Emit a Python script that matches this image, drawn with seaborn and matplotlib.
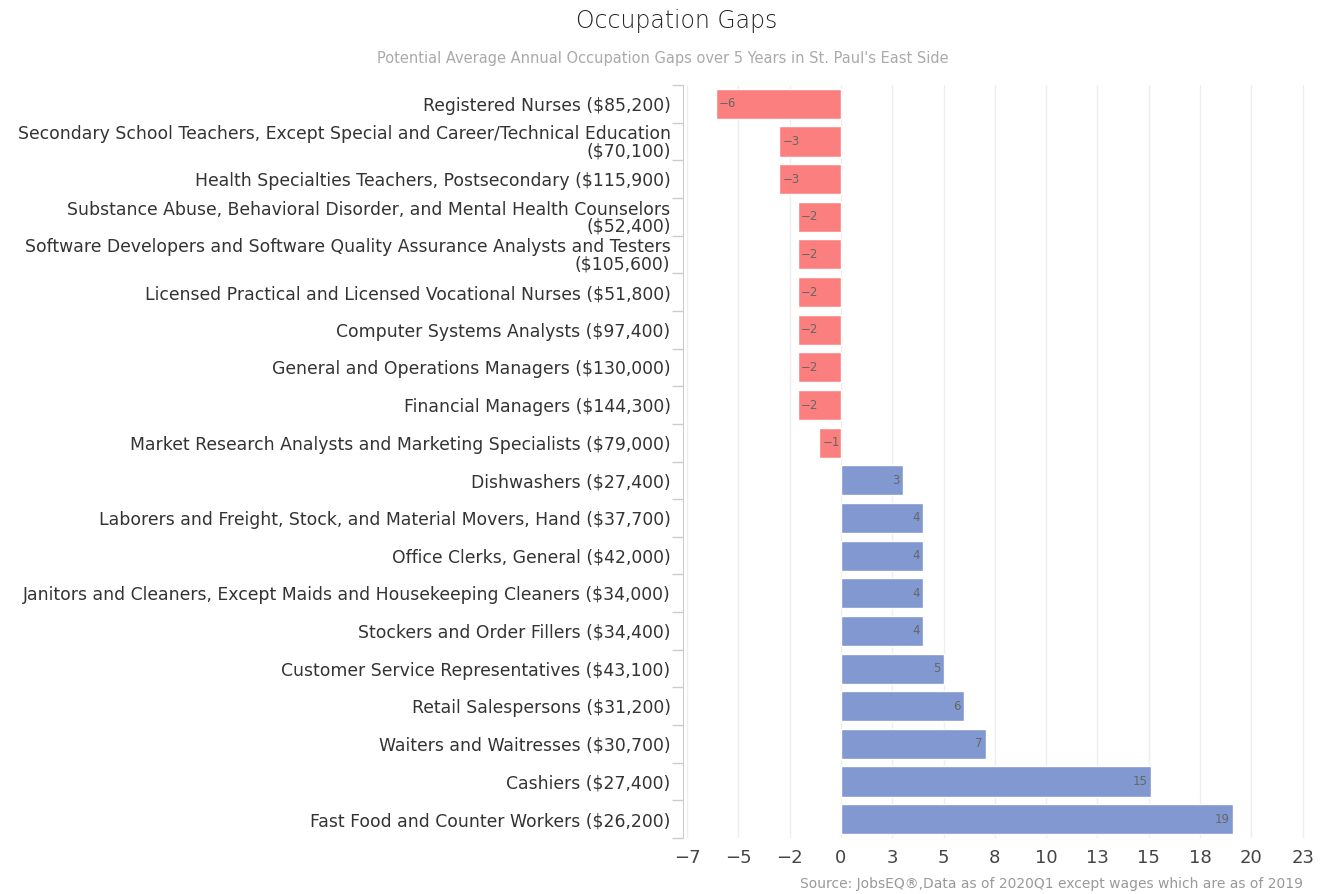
import seaborn as sns
import pandas as pd
import numpy as np
import matplotlib.pyplot as plt
from matplotlib.ticker import FixedLocator, FuncFormatter

# Occupations, wages and gaps
occupations = [
    'Registered Nurses',
    'Secondary School Teachers, Except Special and Career/Technical Education',
    'Health Specialties Teachers, Postsecondary',
    'Substance Abuse, Behavioral Disorder, and Mental Health Counselors',
    'Software Developers and Software Quality Assurance Analysts and Testers',
    'Licensed Practical and Licensed Vocational Nurses',
    'Computer Systems Analysts',
    'General and Operations Managers',
    'Financial Managers',
    'Market Research Analysts and Marketing Specialists',
    'Dishwashers',
    'Laborers and Freight, Stock, and Material Movers, Hand',
    'Office Clerks, General',
    'Janitors and Cleaners, Except Maids and Housekeeping Cleaners',
    'Stockers and Order Fillers',
    'Customer Service Representatives',
    'Retail Salespersons',
    'Waiters and Waitresses',
    'Cashiers',
    'Fast Food and Counter Workers',
]
wages = ['$85,200', '$70,100', '$115,900', '$52,400', '$105,600', '$51,800',
         '$97,400', '$130,000', '$144,300', '$79,000', '$27,400', '$37,700',
         '$42,000', '$34,000', '$34,400', '$43,100', '$31,200', '$30,700',
         '$27,400', '$26,200']
gaps = [-6.1, -3.0, -3.0, -2.1, -2.1, -2.1, -2.1, -2.1, -2.1, -1.05,
        3.0, 4.0, 4.0, 4.0, 4.0, 5.0, 6.0, 7.05, 15.1, 19.1]
wrapped = [1, 3, 4]  # labels that wrap onto a second line

labels = []
for i, (o, w) in enumerate(zip(occupations, wages)):
    sep = '\n' if i in wrapped else ' '
    labels.append(o + sep + '(' + w + ')')

df = pd.DataFrame({'label': labels, 'gap': gaps})
df['sign'] = np.where(df['gap'] < 0, 'neg', 'pos')

sns.set_style('white')
plt.rcParams['font.family'] = ['DejaVu Sans']

fig = plt.figure(figsize=(13.25, 8.94), dpi=100)
ax = fig.add_axes([683 / 1325, 1 - 838 / 894, (1315 - 683) / 1325, (838 - 85) / 894])

sns.barplot(data=df, y='label', x='gap', hue='sign', orient='h',
            palette={'neg': '#fb7f7f', 'pos': '#8199d0'}, width=0.8,
            dodge=False, legend=False, ax=ax, saturation=1)

ax.set_xlim(-7.7, 23.1)
ax.set_ylim(len(df) - 0.5, -0.5)
ax.set_xlabel('')
ax.set_ylabel('')

def fmt(v, p):
    n = int(np.floor(v + 0.5))
    return ('\u2212%d' % -n) if n < 0 else '%d' % n

# ticks every 2.5, labels rounded like the original
ticks = np.arange(-7.5, 23, 2.5)
ax.xaxis.set_major_locator(FixedLocator(ticks))
ax.xaxis.set_major_formatter(FuncFormatter(fmt))
ax.tick_params(axis='x', length=0, labelsize=13, labelcolor='#444444', pad=8)
ax.grid(axis='x', color='#eeeeee', linewidth=1)
ax.set_axisbelow(True)

ax.tick_params(axis='y', which='major', length=0, labelsize=12.4,
               labelcolor='#333333', pad=9)
ax.yaxis.set_minor_locator(FixedLocator(np.arange(-0.5, len(df), 1)))
ax.tick_params(axis='y', which='minor', left=True, length=8, color='#cccccc', width=1)
for t in ax.get_yticklabels():
    t.set_linespacing(0.9)

for s in ['top', 'right', 'bottom']:
    ax.spines[s].set_visible(False)
ax.spines['left'].set_color('#cccccc')

# value labels inside the bar ends
for i, g in enumerate(gaps):
    n = int(np.floor(g + 0.5))
    if g < 0:
        ax.text(g + 0.15, i, '\u2212%d' % -n, va='center', ha='left', fontsize=8.5, color='#666666')
    else:
        ax.text(g - 0.15, i, '%d' % n, va='center', ha='right', fontsize=8.5, color='#666666')

fig.text(0.511, 1 - 21 / 894, 'Occupation Gaps', ha='center', va='center',
         fontsize=17, color='#222222', fontweight='light')
fig.text(0.5, 1 - 59 / 894,
         "Potential Average Annual Occupation Gaps over 5 Years in St. Paul's East Side",
         ha='center', va='center', fontsize=10.5, color='#aaaaaa')
fig.text(1303 / 1325, 1 - 884 / 894,
         'Source: JobsEQ®,Data as of 2020Q1 except wages which are as of 2019',
         ha='right', va='center', fontsize=10, color='#999999')

fig.savefig('out.png', dpi=100)
